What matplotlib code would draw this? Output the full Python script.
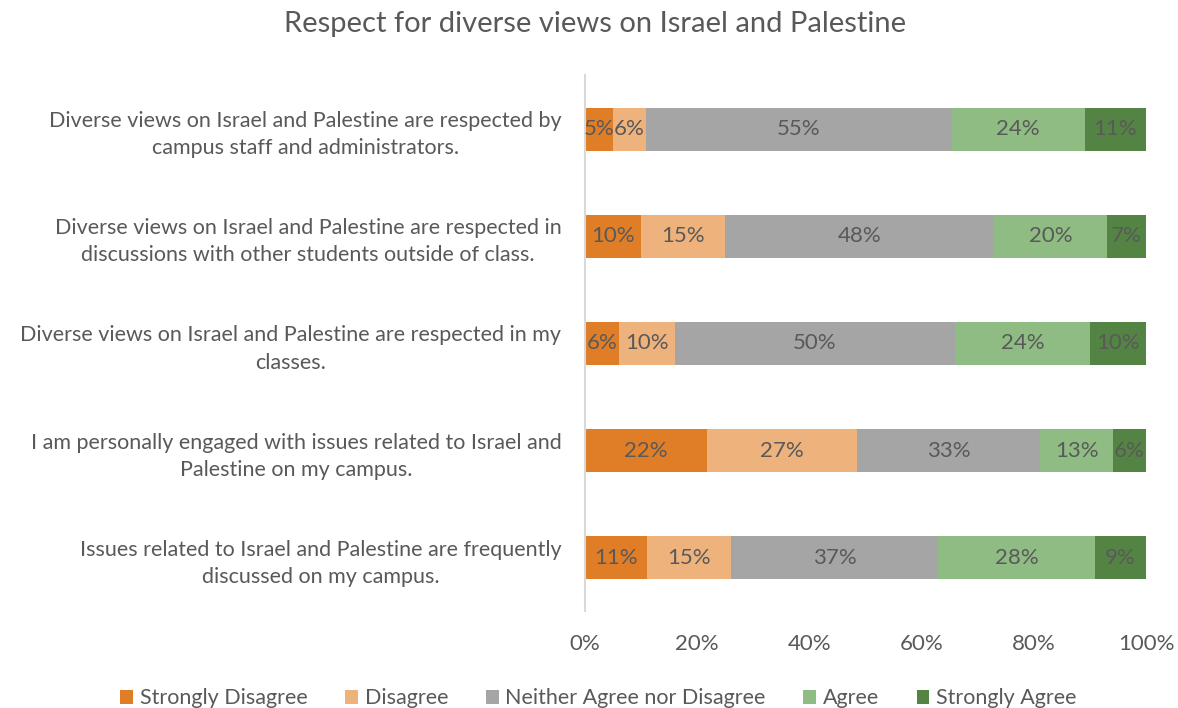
import numpy as np
import matplotlib.pyplot as plt
from matplotlib.ticker import PercentFormatter

plt.rcParams['font.family'] = ['Lato', 'DejaVu Sans']

questions = [
    'Diverse views on Israel and Palestine are respected by\ncampus staff and administrators.',
    'Diverse views on Israel and Palestine are respected in\ndiscussions with other students outside of class.',
    'Diverse views on Israel and Palestine are respected in my\nclasses.',
    'I am personally engaged with issues related to Israel and\nPalestine on my campus.',
    'Issues related to Israel and Palestine are frequently\ndiscussed on my campus.',
]
responses = ['Strongly Disagree', 'Disagree', 'Neither Agree nor Disagree',
             'Agree', 'Strongly Agree']
strongly_disagree = [5, 10, 6, 22, 11]
disagree = [6, 15, 10, 27, 15]
neither = [55, 48, 50, 33, 37]
agree = [24, 20, 24, 13, 28]
strongly_agree = [11, 7, 10, 6, 9]

colors = ['#E07E27', '#EEB27D', '#A5A5A5', '#8FBC82', '#548443']
text_col = '#595959'

series = [strongly_disagree, disagree, neither, agree, strongly_agree]
vals = np.array(series, dtype=float)
totals = vals.sum(axis=0)
shares = vals / totals  # 100% stacked

fig = plt.figure(figsize=(11.78, 7.08), dpi=100)
ax = fig.add_axes([0.4966, 0.1363, 0.4762, 0.7571])

y = np.arange(len(questions))
left = np.zeros(len(questions))
for i, name in enumerate(responses):
    bars = ax.barh(y, shares[i], left=left, height=0.4, color=colors[i],
                   label=name)
    labels = ['%d%%' % v for v in series[i]]
    ax.bar_label(bars, labels=labels, label_type='center', color=text_col,
                 fontsize=16)
    left += shares[i]

ax.set_xlim(0, 1)
ax.set_ylim(len(questions) - 0.5, -0.5)
ax.set_yticks(y)
ax.set_yticklabels(questions, fontsize=15.5, color=text_col,
                   multialignment='center', linespacing=1.45)
ax.set_xticks(np.arange(0, 1.01, 0.2))
ax.xaxis.set_major_formatter(PercentFormatter(1.0, decimals=0))
ax.tick_params(axis='x', labelsize=16, labelcolor=text_col, length=0, pad=16)
ax.tick_params(axis='y', length=0, pad=17)
for side in ['top', 'right', 'bottom']:
    ax.spines[side].set_visible(False)
ax.spines['left'].set_color('#D9D9D9')
ax.spines['left'].set_linewidth(1.5)

fig.suptitle('Respect for diverse views on Israel and Palestine', x=0.505,
             y=0.985, fontsize=21, color=text_col)

fig.legend(loc='lower center', bbox_to_anchor=(0.508, -0.028), ncol=5,
           frameon=False, fontsize=15.5, labelcolor=text_col, handlelength=0.6,
           handleheight=0.6, handletextpad=0.3, columnspacing=1.75)

fig.savefig('out.png', dpi=100)
